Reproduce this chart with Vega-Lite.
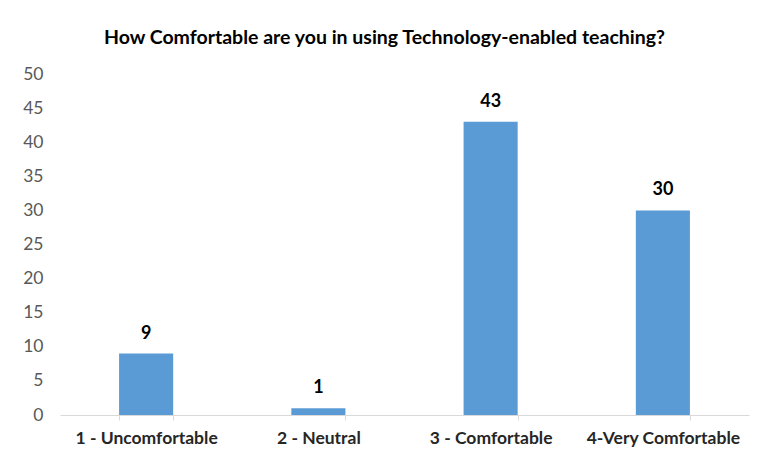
{
  "$schema": "https://vega.github.io/schema/vega-lite/v6.json",
  "width": 689,
  "height": 341,
  "autosize": "none",
  "padding": {"left": 60, "top": 74, "right": 12, "bottom": 47},
  "background": "white",
  "config": {"view": {"stroke": null}, "font": "Lato"},
  "title": {
    "text": "How Comfortable are you in using Technology-enabled teaching?",
    "font": "Lato",
    "fontSize": 19.5,
    "fontWeight": "bold",
    "color": "#000000",
    "anchor": "middle",
    "dx": -20,
    "offset": 17
  },
  "data": {
    "values": [
      {"category": "1 - Uncomfortable", "count": 9},
      {"category": "2 - Neutral", "count": 1},
      {"category": "3 - Comfortable", "count": 43},
      {"category": "4-Very Comfortable", "count": 30}
    ]
  },
  "encoding": {
    "x": {
      "field": "category",
      "type": "nominal",
      "sort": null,
      "scale": {"paddingInner": 0.686, "paddingOuter": 0.343},
      "axis": {
        "title": null,
        "labelAngle": 0,
        "labelFont": "Lato",
        "labelFontSize": 17.5,
        "labelFontWeight": "bold",
        "labelColor": "#262626",
        "labelPadding": 9,
        "domainColor": "#D9D9D9",
        "domainWidth": 1,
        "tickColor": "#D9D9D9",
        "tickSize": 5,
        "tickBand": "extent",
        "grid": false
      }
    },
    "y": {
      "field": "count",
      "type": "quantitative",
      "scale": {"domain": [0, 50]},
      "axis": {
        "title": null,
        "values": [0, 5, 10, 15, 20, 25, 30, 35, 40, 45, 50],
        "grid": false,
        "domain": false,
        "ticks": false,
        "labelFont": "Lato",
        "labelFontSize": 17.5,
        "labelColor": "#595959",
        "labelPadding": 17
      }
    }
  },
  "layer": [
    {"mark": {"type": "bar", "color": "#5B9BD5"}},
    {
      "mark": {"type": "text", "font": "Lato", "fontSize": 18, "fontWeight": "bold", "color": "#000000", "baseline": "alphabetic", "dy": -15},
      "encoding": {"text": {"field": "count", "type": "quantitative"}}
    }
  ]
}
